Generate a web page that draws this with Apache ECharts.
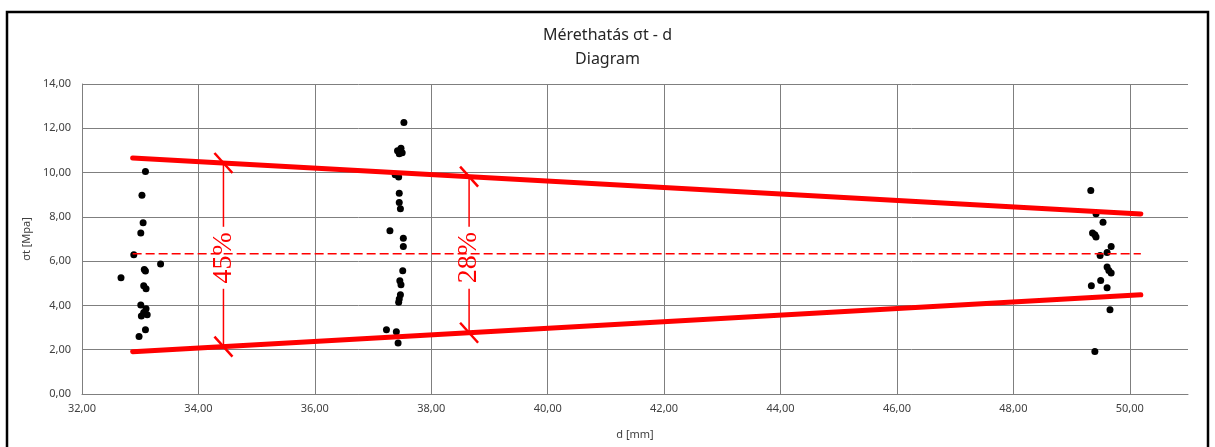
<!DOCTYPE html>
<html>
<head>
<meta charset="utf-8">
<script src="https://cdn.jsdelivr.net/npm/echarts@6/dist/echarts.min.js"></script>
<style>
  html, body { margin: 0; padding: 0; background: #fff; }
  #chart { width: 1215px; height: 447px; }
</style>
</head>
<body>
<div id="chart"></div>
<script>
// measured points [d, sigma_t]
const group33 = [
  [33.09, 10.05], [33.03, 8.98], [33.05, 7.73], [33.01, 7.27], [32.89, 6.29],
  [33.35, 5.87], [33.07, 5.62], [33.09, 5.55], [32.67, 5.25], [33.06, 4.89],
  [33.10, 4.75], [33.01, 4.02], [33.10, 3.85], [33.06, 3.68], [33.12, 3.58],
  [33.02, 3.52], [33.09, 2.90], [32.98, 2.60]
]
const group37 = [
  [37.53, 12.26], [37.48, 11.10], [37.42, 10.98], [37.50, 10.90], [37.45, 10.85],
  [37.38, 9.90], [37.44, 9.80], [37.45, 9.07], [37.45, 8.65], [37.47, 8.37],
  [37.29, 7.37], [37.52, 7.03], [37.52, 6.66], [37.51, 5.57], [37.46, 5.11],
  [37.48, 4.93], [37.47, 4.48], [37.45, 4.29], [37.44, 4.14], [37.23, 2.90],
  [37.40, 2.81], [37.43, 2.30]
]
const group49 = [
  [49.33, 9.19], [49.42, 8.14], [49.54, 7.76], [49.36, 7.27], [49.40, 7.19],
  [49.42, 7.09], [49.68, 6.66], [49.61, 6.39], [49.49, 6.26], [49.61, 5.73],
  [49.64, 5.58], [49.68, 5.46], [49.50, 5.13], [49.34, 4.89], [49.61, 4.80],
  [49.66, 3.81], [49.40, 1.92]
]

// envelope and mean lines
const upperLine = [[32.87, 10.66], [50.19, 8.13]]
const lowerLine = [[32.87, 1.91], [50.19, 4.48]]
const meanLine = [[32.87, 6.33], [50.19, 6.33]]

// spread annotations
const spanX = [34.43, 38.65]
const spanLabels = ['45%', '28%']

const fmt = v => v.toFixed(2).replace('.', ',')

function yAt(line, x) {
  const [a, b] = line
  return a[1] + (b[1] - a[1]) * (x - a[0]) / (b[0] - a[0])
}

const spanData = spanX.map(x => [x, yAt(upperLine, x), yAt(lowerLine, x)])

function renderSpan(params, api) {
  const top = api.coord([api.value(0), api.value(1)])
  const bot = api.coord([api.value(0), api.value(2)])
  const mid = (top[1] + bot[1]) / 2 + 3
  const gap = 31
  const thin = { stroke: '#ff0000', lineWidth: 1.5 }
  const tick = { stroke: '#ff0000', lineWidth: 2.5 }
  return {
    type: 'group',
    children: [
      { type: 'line', shape: { x1: top[0], y1: top[1], x2: top[0], y2: mid - gap }, style: thin },
      { type: 'line', shape: { x1: bot[0], y1: mid + gap, x2: bot[0], y2: bot[1] }, style: thin },
      { type: 'line', shape: { x1: top[0] - 9, y1: top[1] - 10, x2: top[0] + 9, y2: top[1] + 10 }, style: tick },
      { type: 'line', shape: { x1: bot[0] - 9, y1: bot[1] - 10, x2: bot[0] + 9, y2: bot[1] + 10 }, style: tick },
      {
        type: 'text', x: top[0], y: mid, rotation: Math.PI / 2,
        style: {
          text: spanLabels[params.dataIndex], fill: '#ff0000',
          fontSize: 28, fontFamily: '"Liberation Serif", serif',
          align: 'center', verticalAlign: 'middle'
        }
      }
    ]
  }
}

const gridColor = '#7f7f7f'
const labelColor = '#404040'
const font = '"Noto Sans", sans-serif'

const chart = echarts.init(document.getElementById('chart'))

chart.setOption({
  animation: false,
  textStyle: { fontFamily: font },
  title: {
    text: 'Mérethatás σt - d\nDiagram',
    left: 'center',
    top: 18,
    textStyle: { fontSize: 16, lineHeight: 24, fontWeight: 'normal', color: '#262626', fontFamily: font }
  },
  graphic: [{
    type: 'rect',
    shape: { x: 7, y: 12, width: 1201, height: 460 },
    style: { fill: 'none', stroke: '#000', lineWidth: 2.5 },
    silent: true
  }],
  grid: { left: 82, right: 27, top: 84, bottom: 53 },
  xAxis: {
    type: 'value', min: 32, max: 51, interval: 2,
    name: 'd [mm]', nameLocation: 'middle', nameGap: 35,
    nameTextStyle: { fontSize: 11, color: labelColor },
    axisLine: { lineStyle: { color: gridColor } },
    axisTick: { show: false },
    axisLabel: { fontSize: 11, color: labelColor, margin: 9, formatter: fmt, showMaxLabel: false },
    splitLine: { lineStyle: { color: gridColor }, showMaxLine: false }
  },
  yAxis: {
    type: 'value', min: 0, max: 14, interval: 2,
    name: 'σt [Mpa]', nameLocation: 'middle', nameGap: 49,
    nameTextStyle: { fontSize: 11, color: labelColor },
    axisLine: { show: true, lineStyle: { color: gridColor } },
    axisTick: { show: false },
    axisLabel: { fontSize: 11, color: labelColor, margin: 11, formatter: fmt },
    splitLine: { lineStyle: { color: gridColor } }
  },
  series: [
    { type: 'scatter', data: group33, symbolSize: 7, itemStyle: { color: '#000', opacity: 1 }, z: 2 },
    { type: 'scatter', data: group37, symbolSize: 7, itemStyle: { color: '#000', opacity: 1 }, z: 2 },
    { type: 'scatter', data: group49, symbolSize: 7, itemStyle: { color: '#000', opacity: 1 }, z: 2 },
    {
      type: 'line', data: meanLine, symbol: 'none', z: 3,
      lineStyle: { color: '#ff0000', width: 1.5, type: [9, 4] }
    },
    {
      type: 'line', data: upperLine, symbol: 'none', z: 4,
      lineStyle: { color: '#ff0000', width: 5, cap: 'round' }
    },
    {
      type: 'line', data: lowerLine, symbol: 'none', z: 4,
      lineStyle: { color: '#ff0000', width: 5, cap: 'round' }
    },
    { type: 'custom', data: spanData, renderItem: renderSpan, z: 5 }
  ]
})
</script>
</body>
</html>
